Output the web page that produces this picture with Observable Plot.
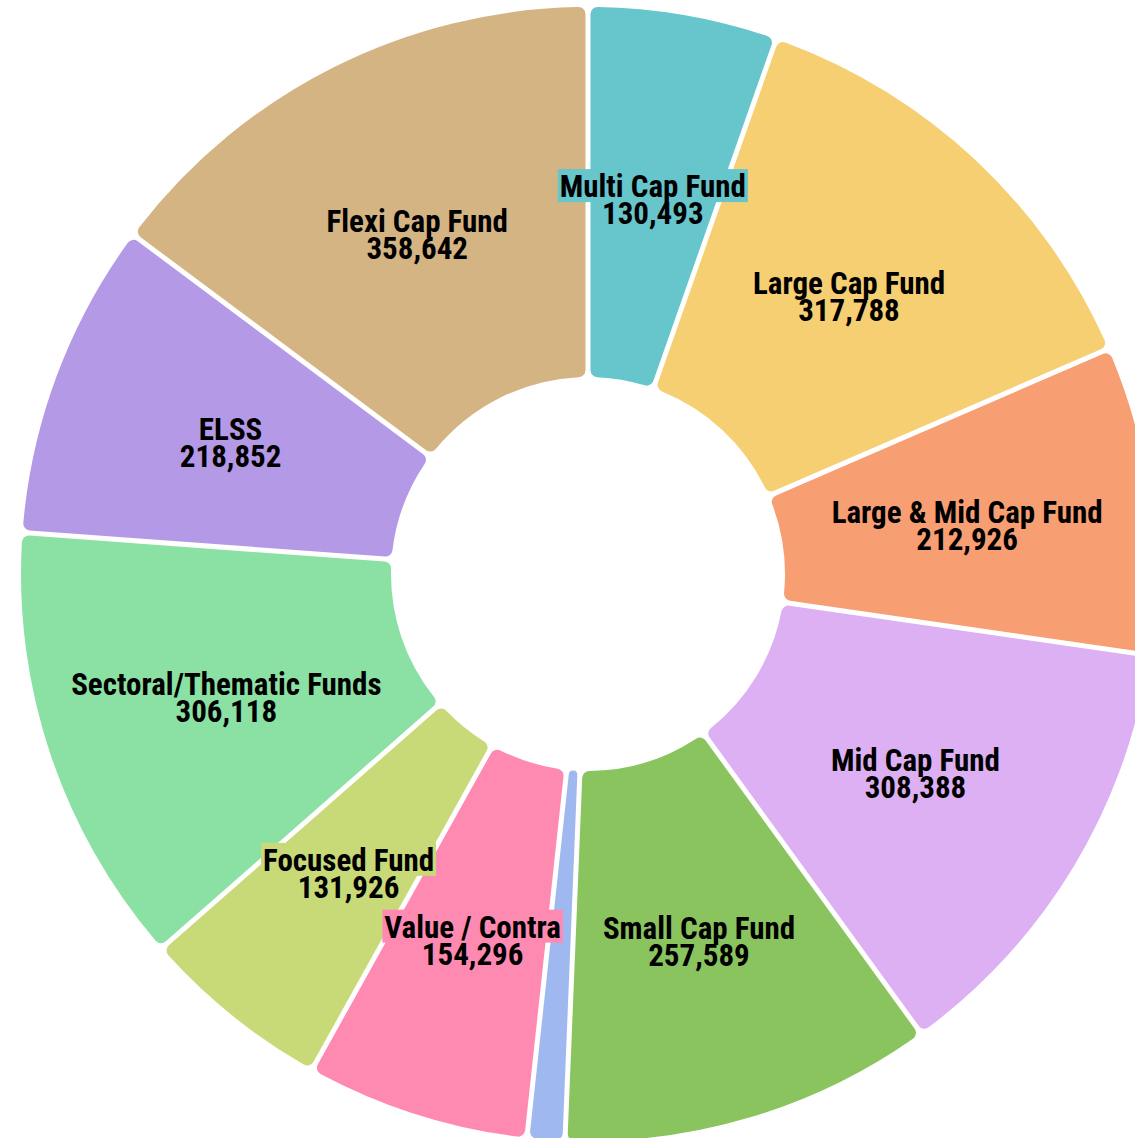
<!DOCTYPE html>
<html>
<head>
<meta charset="utf-8">
<script src="https://cdn.jsdelivr.net/npm/d3@7"></script>
<script src="https://cdn.jsdelivr.net/npm/@observablehq/plot@0.6"></script>
<style>
  html, body { margin: 0; padding: 0; background: #fff; overflow: hidden; }
  #chart svg text { font-stretch: 75%; }
</style>
</head>
<body>
<div id="chart"></div>
<script>
// ---- data ----
const categories = [
  "Multi Cap Fund", "Large Cap Fund", "Large & Mid Cap Fund", "Mid Cap Fund",
  "Small Cap Fund", "Dividend Yield Fund", "Value / Contra", "Focused Fund",
  "Sectoral/Thematic Funds", "ELSS", "Flexi Cap Fund"
];
const values = [130493, 317788, 212926, 308388, 257589, 26000, 154296, 131926, 306118, 218852, 358642];
const colors = [
  "#67c5cc", "#f5cf72", "#f79e72", "#dcb0f2", "#8ac45f", "#9fb9f0",
  "#ff8ab1", "#c8d977", "#8be0a4", "#b399e6", "#d4b483"
];

// ---- layout config ----
const W = 1135, H = 1138;
const CX = 588, CY = 574;          // centre of the donut in the picture
const R0 = 197, R1 = 567;          // inner / outer radius
const GAP = 5, CORNER = 7;
const FONT = '"Roboto Condensed", Roboto, "Noto Sans", sans-serif';
const FONT_SIZE = 31, LINE = 27;

const data = categories.map((name, i) => ({name, value: values[i], color: colors[i]}));
const arcs = d3.pie().sort(null).value(d => d.value)(data);
const total = d3.sum(values);
const fmt = d3.format(",");

const centroidArc = d3.arc().innerRadius(R0).outerRadius(R1);
const labels = arcs
  .filter(a => a.data.value / total > 0.02)
  .map(a => {
    const [lx, ly] = centroidArc.centroid(a);
    return {lx, ly, text: a.data.name + "\n" + fmt(a.data.value), color: a.data.color};
  });

function donut(index, scales) {
  const {x, y} = scales;
  const cx = x(0), cy = y(0), k = x(1) - x(0);
  const arc = d3.arc()
    .innerRadius(R0 * k).outerRadius(R1 * k)
    .cornerRadius(CORNER).padRadius(R1 * k).padAngle(GAP / (R1 * k));
  const g = d3.create("svg:g").attr("transform", `translate(${cx},${cy})`);
  g.selectAll("path").data(arcs).join("path")
    .attr("d", arc).attr("fill", d => d.data.color);
  return g.node();
}

const chart = Plot.plot({
  width: W, height: H,
  margin: 0,
  x: {type: "linear", domain: [-CX, W - CX], range: [0, W], axis: null},
  y: {type: "linear", domain: [-CY, H - CY], range: [0, H], axis: null},
  marks: [
    donut,
    Plot.text(labels, {
      x: "lx", y: "ly", text: "text", dy: 4,
      fontSize: FONT_SIZE, fontWeight: "bold", lineHeight: LINE / FONT_SIZE,
      fill: "#000", fontFamily: FONT
    })
  ]
});
document.getElementById("chart").appendChild(chart);

// label background boxes (one per line) in the slice colour
const textGroup = chart.querySelector('g[aria-label="text"]');
textGroup.querySelectorAll("text").forEach((t, i) => {
  const tr = t.getAttribute("transform");
  const lines = t.querySelectorAll("tspan");
  const parts = lines.length ? Array.from(lines) : [t];
  parts.forEach(p => {
    const b = p.getBBox();
    const pad = 2;
    const r = document.createElementNS("http://www.w3.org/2000/svg", "rect");
    r.setAttribute("x", b.x - pad);
    r.setAttribute("y", b.y + 1);
    r.setAttribute("width", b.width + 2 * pad);
    r.setAttribute("height", b.height - 4);
    r.setAttribute("fill", labels[i].color);
    if (tr) r.setAttribute("transform", tr);
    textGroup.insertBefore(r, t);
  });
});
</script>
</body>
</html>
